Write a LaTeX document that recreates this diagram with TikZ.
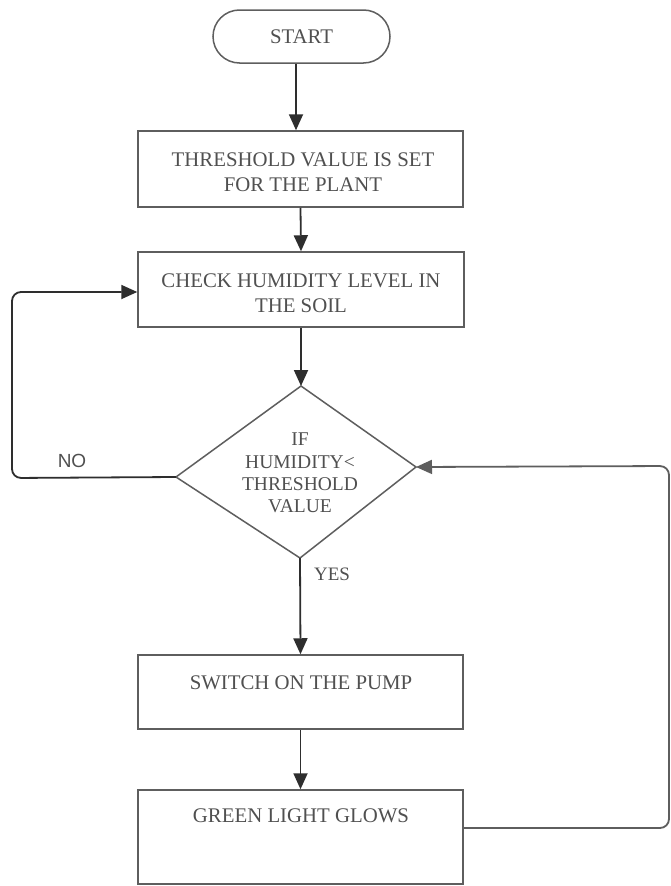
\documentclass[tikz,border=0pt]{standalone}
\usepackage{fontspec}
\setmainfont{Liberation Serif}
\newfontfamily\labsans{Liberation Sans}
\usetikzlibrary{arrows.meta,shapes.misc}
\definecolor{boxline}{HTML}{5E5E5E}
\definecolor{arrline}{HTML}{2E2E2E}
\definecolor{txtcol}{HTML}{505050}
\begin{document}
\begin{tikzpicture}[x=1pt,y=-1pt,
  boxnode/.style={draw=boxline,line width=1.5pt,rectangle,inner sep=0pt,fill=white},
  txt/.style={text=txtcol,font=\fontsize{20.8}{24.5}\selectfont,align=center,inner sep=0pt},
  arr/.style={draw=arrline,line width=1.8pt,-{Triangle[length=16pt,width=14pt]}},
  lin/.style={draw=boxline,line width=1.5pt}]
\useasboundingbox (0,0) rectangle (671,886);
\fill[white] (0,0) rectangle (671,886);
% start terminal
\node[draw=boxline,line width=1.5pt,rounded rectangle,minimum width=177pt,minimum height=53pt,inner sep=0pt] (start) at (301.5,36.5) {};
\node[txt] (starttxt) at (301.5,37) {START};
% boxes
\node[boxnode,minimum width=325pt,minimum height=76pt] (b1) at (300.5,169) {};
\node[txt] (b1txt) at (303,172) {THRESHOLD VALUE IS SET\\FOR THE PLANT};
\node[boxnode,minimum width=326pt,minimum height=75pt] (b2) at (301,289.5) {};
\node[txt] (b2txt) at (301,293) {CHECK HUMIDITY LEVEL IN\\THE SOIL};
\node[boxnode,minimum width=325pt,minimum height=74pt] (b3) at (300.5,692) {};
\node[txt] (b3txt) at (301,683) {SWITCH ON THE PUMP};
\node[boxnode,minimum width=325pt,minimum height=94pt] (b4) at (300.5,837) {};
\node[txt] (b4txt) at (301,816) {GREEN LIGHT GLOWS};
% decision diamond
\coordinate (dT) at (301,386);
\coordinate (dR) at (416,467);
\coordinate (dB) at (300,558);
\coordinate (dL) at (176,477);
\draw[lin,line join=miter] (dT) -- (dR) -- (dB) -- (dL) -- cycle;
\node[txt,font=\fontsize{19.5}{22.3}\selectfont] (dtxt) at (300,473) {IF\\HUMIDITY<\\THRESHOLD\\VALUE};
% connectors
\draw[arr] (start.south -| 296,0) -- (b1.north -| 296,0);
\draw[arr] (b1.south) -- (b2.north);
\draw[arr] (b2.south) -- (dT);
\draw[arr] (dB) -- (b3.north);
\draw[arr] (b3.south) -- (b4.north);
\coordinate (noA) at (12,478);
\coordinate (noB) at (12,292);
\draw[arr,rounded corners=9pt] (dL) -- (noA) -- (noB) -- (noB -| b2.west);
\coordinate (reA) at (669,828);
\coordinate (reB) at (669,466);
\draw[arr,draw=boxline,rounded corners=9pt] (reA -| b4.east) -- (reA) -- (reB) -- (dR);
% labels
\node[text=txtcol,font=\labsans\fontsize{19}{22}\selectfont,inner sep=0pt] (nolab) at (72,461) {NO};
\node[text=txtcol,font=\fontsize{19}{22}\selectfont,inner sep=0pt] (yeslab) at (332,574) {YES};
\end{tikzpicture}
\end{document}
